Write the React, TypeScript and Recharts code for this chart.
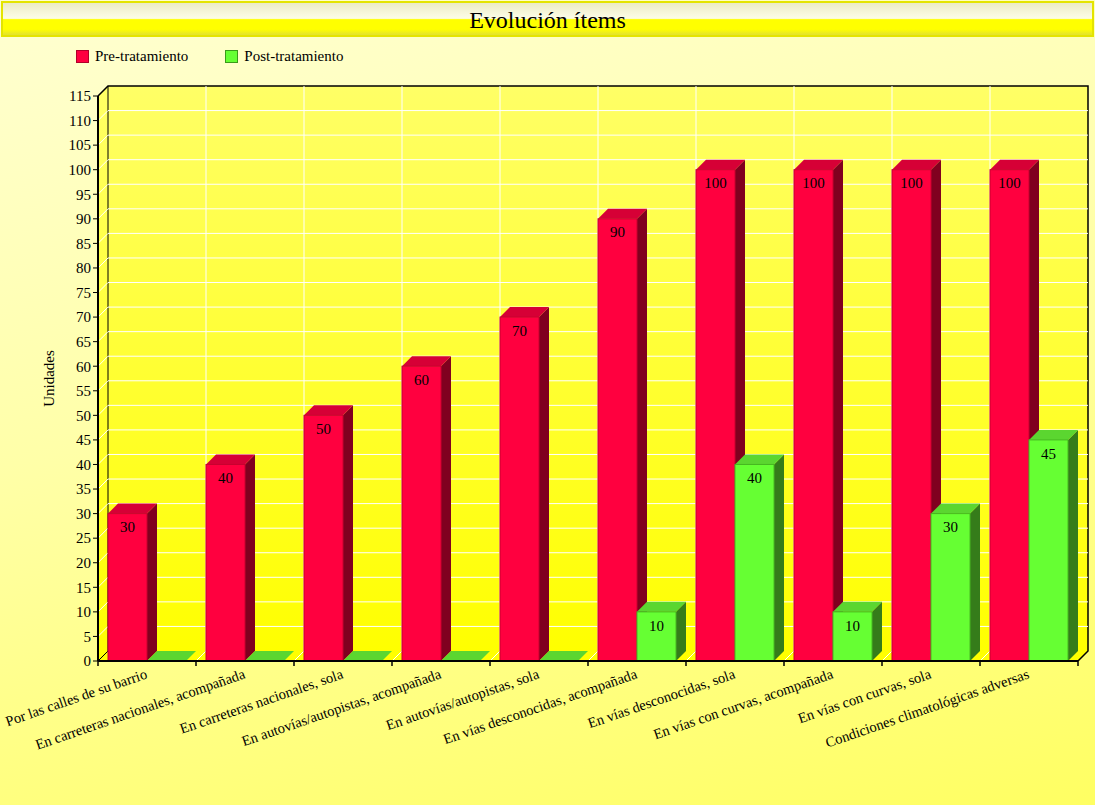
import React from 'react';
import { BarChart, Bar, XAxis, YAxis, CartesianGrid, ReferenceArea, ReferenceLine, LabelList } from 'recharts';

const categories = [
  'Por las calles de su barrio',
  'En carreteras nacionales, acompañada',
  'En carreteras nacionales, sola',
  'En autovías/autopistas, acompañada',
  'En autovías/autopistas, sola',
  'En vías desconocidas, acompañada',
  'En vías desconocidas, sola',
  'En vías con curvas, acompañada',
  'En vías con curvas, sola',
  'Condiciones climatológicas adversas',
];
const preValues = [30, 40, 50, 60, 70, 90, 100, 100, 100, 100];
const postValues = [0, 0, 0, 0, 0, 10, 40, 10, 30, 45];
const yTicks = [0, 5, 10, 15, 20, 25, 30, 35, 40, 45, 50, 55, 60, 65, 70, 75, 80, 85, 90, 95, 100, 105, 110, 115];

const seriesNames = ['Pre-tratamiento', 'Post-tratamiento'];

const data = categories.map((name, i) => ({ name, pre: preValues[i], post: postValues[i] }));

const FONT = '"Liberation Serif", "Times New Roman", serif';
const D = 10; // 3d depth

const RED = { front: '#ff003f', top: '#d60036', side: '#80001f', edge: '#c8002f' };
const GREEN = { front: '#66ff33', top: '#5bd630', side: '#357c1a', edge: '#46b820' };

const make3DBar = (c: typeof RED) => (props: any) => {
  const { x, y, width, height } = props;
  const w = width;
  const h = Math.max(height, 0);
  return (
    <g>
      {h > 0 && (
        <polygon
          points={`${x + w},${y} ${x + w + D},${y - D} ${x + w + D},${y + h - D} ${x + w},${y + h}`}
          fill={c.side}
        />
      )}
      <polygon points={`${x},${y} ${x + D},${y - D} ${x + w + D},${y - D} ${x + w},${y}`} fill={c.top} />
      {h > 0 && <rect x={x} y={y} width={w} height={h} fill={c.front} stroke={c.edge} strokeWidth={1} />}
    </g>
  );
};

const Walls = (props: any) => {
  const { x, y, width, height } = props;
  const b = y + height;
  const r = x + width;
  return (
    <g>
      <polygon points={`${x},${y} ${x + D},${y - D} ${x + D},${b - D} ${x},${b}`} fill="url(#wallGrad)" />
      <rect x={x + D} y={y - D} width={width} height={height} fill="url(#wallGrad)" />
      <polygon points={`${x},${b} ${x + D},${b - D} ${r + D},${b - D} ${r},${b}`} fill="#ffff00" />
      <polyline
        points={`${x},${y} ${x + D},${y - D} ${r + D},${y - D} ${r + D},${b - D} ${r},${b}`}
        fill="none"
        stroke="#000"
        strokeWidth={1.5}
      />
      <line x1={x + D} y1={y - D} x2={x + D} y2={b - D} stroke="#000" strokeWidth={1} />
      <line x1={x} y1={b} x2={x + D} y2={b - D} stroke="#000" strokeWidth={1} />
    </g>
  );
};

const renderHLine = (p: any) => {
  const edge = p.index === 0 || p.index === yTicks.length - 1;
  if (edge) return <g key={p.key} />;
  return (
    <g key={p.key}>
      <line x1={p.x1 + D} y1={p.y1 - D} x2={p.x2 + D} y2={p.y2 - D} stroke="#ffffff" strokeWidth={1} />
      <line x1={p.x1} y1={p.y1} x2={p.x1 + D} y2={p.y1 - D} stroke="#ffffff" strokeWidth={1} />
    </g>
  );
};

const VLine = (p: any) => {
  const top = Math.min(p.y1, p.y2);
  const bot = Math.max(p.y1, p.y2);
  return (
    <g>
      <line x1={p.x1 + D} y1={top - D} x2={p.x1 + D} y2={bot - D} stroke="#ffffff" strokeWidth={1} />
      <line x1={p.x1} y1={bot} x2={p.x1 + D} y2={bot - D} stroke="#ffffff" strokeWidth={1} />
    </g>
  );
};

const XTick = (props: any) => {
  const { x, y, payload, index } = props;
  const half = payload && payload.offset ? payload.offset : 49;
  const last = index === categories.length - 1;
  const tx = x + 1;
  const ty = y + 17;
  return (
    <g>
      <line x1={x - half} y1={y} x2={x - half} y2={y + 5} stroke="#000" strokeWidth={1.5} />
      {last && <line x1={x + half} y1={y} x2={x + half} y2={y + 5} stroke="#000" strokeWidth={1.5} />}
      <text
        x={tx}
        y={ty}
        transform={`rotate(-19 ${tx} ${ty})`}
        textAnchor="end"
        fontFamily={FONT}
        fontSize={14.5}
        fill="#000"
      >
        {payload.value}
      </text>
    </g>
  );
};

const valueLabel = (v: any) => (v === 0 ? '' : v);

export default function App() {
  return (
    <div
      style={{
        position: 'absolute',
        left: 0,
        top: 0,
        width: 1095,
        height: 805,
        background: 'linear-gradient(168deg, #ffffd2 0%, #ffffa8 45%, #ffff62 100%)',
        fontFamily: FONT,
        overflow: 'hidden',
      }}
    >
      <div
        style={{
          position: 'absolute',
          left: 1,
          top: 1,
          width: 1089,
          height: 32,
          border: '2px solid #e4e400',
          background:
            'linear-gradient(to bottom, #ecebc6 0%, #f8f8de 35%, #fcfce6 48%, #ffff00 52%, #ffff00 82%, #e2e230 100%)',
          textAlign: 'center',
          fontSize: 24,
          lineHeight: '34px',
          color: '#000',
        }}
      >
        Evolución ítems
      </div>
      <div style={{ position: 'absolute', left: 76, top: 48, display: 'flex', fontSize: 15, color: '#000' }}>
        {seriesNames.map((n, i) => (
          <div key={n} style={{ display: 'flex', alignItems: 'center', marginRight: 37 }}>
            <span
              style={{
                display: 'inline-block',
                width: 11,
                height: 11,
                background: i === 0 ? RED.front : GREEN.front,
                border: `1px solid ${i === 0 ? '#b0002a' : '#3a9a1a'}`,
                marginRight: 6,
              }}
            />
            <span>{n}</span>
          </div>
        ))}
      </div>
      <BarChart
        width={1095}
        height={805}
        data={data}
        margin={{ top: 96, right: 17, left: 38, bottom: 114 }}
        barCategoryGap={10}
        barGap={0}
        style={{ position: 'absolute', left: 0, top: 0 }}
      >
        <defs>
          <linearGradient id="wallGrad" x1="0" y1="0" x2="0" y2="1">
            <stop offset="0%" stopColor="#ffff66" />
            <stop offset="100%" stopColor="#ffff00" />
          </linearGradient>
        </defs>
        <ReferenceArea y1={0} y2={115} ifOverflow="visible" shape={<Walls />} zIndex={-200} />
        <CartesianGrid horizontal={renderHLine} vertical={false} />
        {categories.slice(1).map((c) => (
          <ReferenceLine
            key={c}
            x={c}
            position="start"
            ifOverflow="visible"
            shape={<VLine />}
            zIndex={-90}
          />
        ))}
        <XAxis
          dataKey="name"
          type="category"
          interval={0}
          height={30}
          tickSize={0}
          tickMargin={0}
          tickLine={false}
          axisLine={{ stroke: '#000', strokeWidth: 2 }}
          tick={<XTick />}
        />
        <YAxis
          type="number"
          domain={[0, 115]}
          ticks={yTicks}
          interval={0}
          width={60}
          tickSize={5}
          tickMargin={2}
          axisLine={{ stroke: '#000', strokeWidth: 2 }}
          tickLine={{ stroke: '#000' }}
          tick={{ fill: '#000', fontSize: 15, fontFamily: FONT }}
          label={{
            value: 'Unidades',
            angle: -90,
            position: 'insideLeft',
            offset: 11,
            textAnchor: 'middle',
            style: { fill: '#000', fontSize: 15, fontFamily: FONT },
          }}
        />
        <Bar dataKey="pre" name={seriesNames[0]} fill={RED.front} shape={make3DBar(RED)} isAnimationActive={false}>
          <LabelList
            dataKey="pre"
            position="insideTop"
            offset={8}
            formatter={valueLabel}
            style={{ fill: '#000', fontSize: 15, fontFamily: FONT }}
          />
        </Bar>
        <Bar dataKey="post" name={seriesNames[1]} fill={GREEN.front} shape={make3DBar(GREEN)} isAnimationActive={false}>
          <LabelList
            dataKey="post"
            position="insideTop"
            offset={8}
            formatter={valueLabel}
            style={{ fill: '#000', fontSize: 15, fontFamily: FONT }}
          />
        </Bar>
      </BarChart>
    </div>
  );
}
